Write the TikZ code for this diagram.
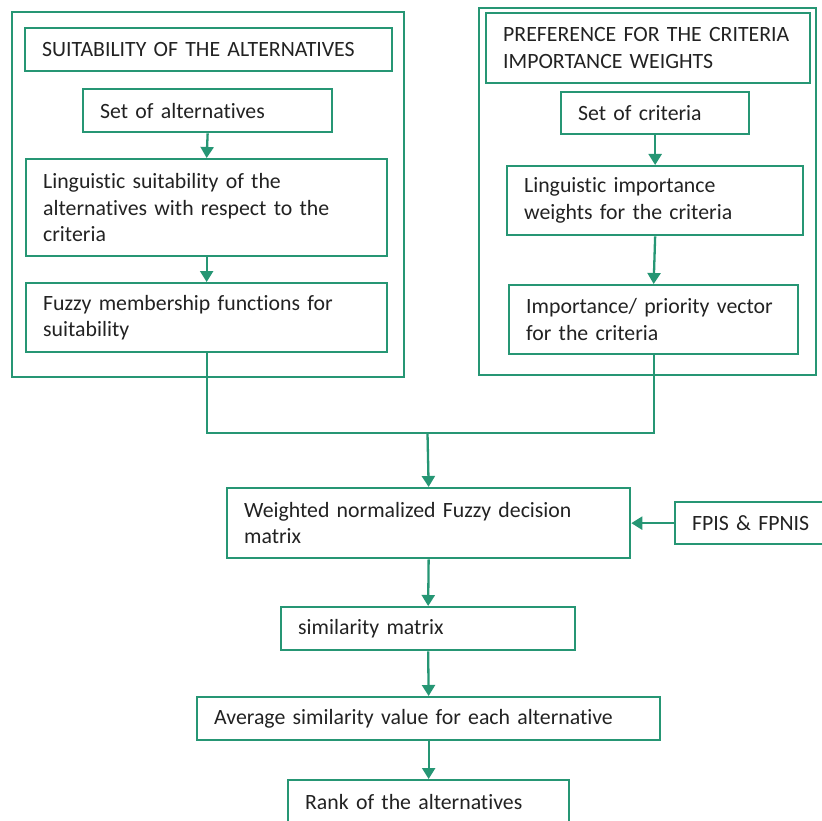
\documentclass[tikz,border=0pt]{standalone}
\usepackage{fontspec}
\setmainfont{Carlito}[Ligatures=NoCommon]
\usetikzlibrary{arrows.meta}
\definecolor{grn}{RGB}{38,150,116}
\definecolor{txt}{RGB}{34,34,34}
\tikzset{
  box/.style={draw=grn, line width=2.3pt, anchor=north west, align=left,
    inner xsep=17pt, inner ysep=0pt, text=txt,
    font=\fontsize{21.8}{26.6}\selectfont},
  conn/.style={draw=grn, line width=2.3pt},
  arr/.style={conn, -{Triangle[width=13pt,length=11pt]}},
}
\newcommand{\bx}[7]{% name, x1, y1, x2, y2, text
  \pgfmathsetmacro{\bw}{#4-#2-34}
  \pgfmathsetmacro{\bh}{#5-#3}
  \node[box, text width=\bw pt, minimum height=\bh pt] (#1) at (#2,#3) {#6};}
\begin{document}
\begin{tikzpicture}[x=1pt,y=-1pt]
\useasboundingbox (0,0) rectangle (822,821);
\clip (0,0) rectangle (822,821);
% outer groups
\draw[conn] (12,12) rectangle (404,377);
\draw[conn] (479,8) rectangle (816,375);
% left column
\bx{tl}{24}{27}{391}{70}{SUITABILITY OF THE ALTERNATIVES}{}
\bx{salt}{82}{88}{331}{131}{Set of alternatives}{}
\bx{ling}{25}{158}{386}{255}{Linguistic suitability of the\\alternatives with respect to the\\criteria}{}
\bx{fuzzy}{25}{282}{386}{351}{Fuzzy membership functions for\\suitability}{}
% right column
\bx{tr}{485}{12}{809}{82}{PREFERENCE FOR THE CRITERIA\\IMPORTANCE WEIGHTS}{}
\bx{scrit}{560}{91}{748}{133}{Set of criteria}{}
\bx{limp}{506}{165}{802}{234}{Linguistic importance\\weights for the criteria}{}
\bx{imp}{508}{284}{797}{353}{Importance/ priority vector\\for the criteria}{}
% lower flow
\bx{wdm}{226}{487}{629}{557}{Weighted normalized Fuzzy decision\\matrix}{}
\bx{fpis}{674}{501}{840}{543}{FPIS \& FPNIS}{}
\bx{sim}{280}{606}{574}{649}{similarity matrix}{}
\bx{avg}{196}{696}{659}{739}{Average similarity value for each alternative}{}
\bx{rank}{287}{779}{568}{823}{Rank of the alternatives}{}
% connectors
\draw[arr] (salt.south) -- (ling.north);
\draw[arr] (ling.south) -- (fuzzy.north);
\draw[arr] (scrit.south) -- (limp.north);
\draw[arr] (limp.south) -- (imp.north);
\coordinate (j) at (427.5,433);
\draw[conn] (fuzzy.south) |- (j) -| (imp.south);
\draw[arr] (j) -- (wdm.north);
\draw[arr] (fpis.west) -- (wdm.east);
\draw[arr] (wdm.south) -- (sim.north);
\draw[arr] (sim.south) -- (avg.north);
\draw[arr] (avg.south) -- (rank.north);
\end{tikzpicture}
\end{document}
